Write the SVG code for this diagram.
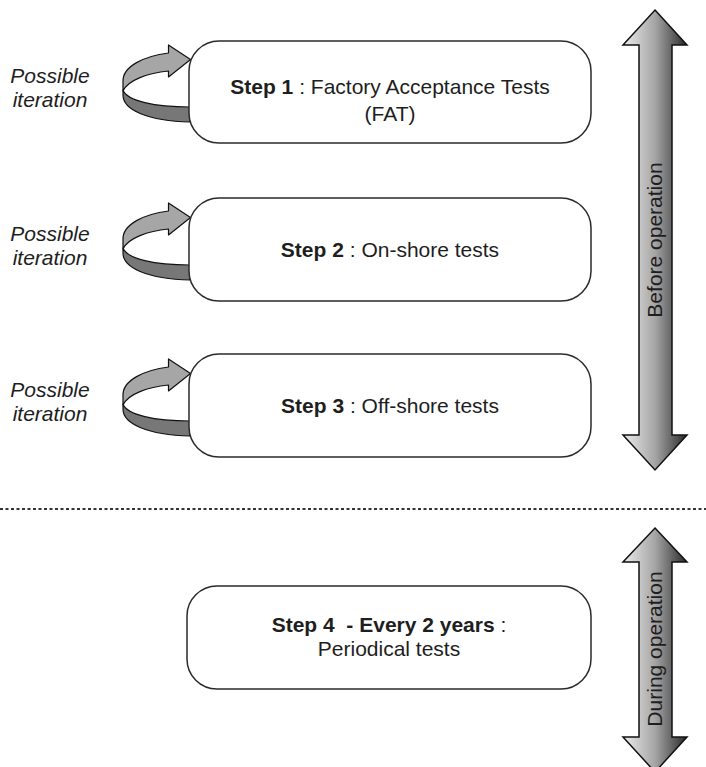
<svg xmlns="http://www.w3.org/2000/svg" width="706" height="767" viewBox="0 0 706 767">
<style>
.box{fill:#fff;stroke:#2a2a2a;stroke-width:1.5}
.t{font-family:"Liberation Sans",Arial,sans-serif;font-size:21px;fill:#1e1e1e}
.b{font-weight:bold}
.it{font-family:"Liberation Sans",Arial,sans-serif;font-size:21px;font-style:italic;fill:#1e1e1e}
.big{stroke:#111;stroke-width:1.5;fill:url(#g)}
.lt{fill:#a6a6a6;stroke:#111;stroke-width:1.2;stroke-linejoin:round}
.dk{fill:#777;stroke:#111;stroke-width:1.2;stroke-linejoin:round}
</style>
<defs>
<linearGradient id="g" x1="0" y1="0" x2="1" y2="0">
<stop offset="0" stop-color="#ececec"/>
<stop offset="0.5" stop-color="#a5a5a5"/>
<stop offset="1" stop-color="#2a2a2a"/>
</linearGradient>
<g id="loop">
<path class="dk" d="M123,90 C127,101 155,107 190,107 L190,122 C148,121 123,110 123,95 Z"/>
<path class="lt" d="M168.5,53 C145,56 122,66 123,82 L123,91 C128,80 148,73 168.5,71 L168.5,77 L190.5,59.5 L168.5,45 Z"/>
</g>
</defs>
<rect width="706" height="767" fill="#fff"/>

<g id="connectors">
<use href="#loop"/>
<use href="#loop" transform="translate(0,158)"/>
<use href="#loop" transform="translate(0,314)"/>
<line x1="0" y1="509" x2="706" y2="509" stroke="#333" stroke-width="2" stroke-dasharray="3 2.5"/>
</g>

<g id="arrow-before">
<polygon class="big" points="655,10 687,45 672,45 672,435 687,435 655,470 623,435 639,435 639,45 623,45"/>
<text class="t" transform="translate(662,240) rotate(-90)" text-anchor="middle">Before operation</text>
</g>
<g id="arrow-during">
<polygon class="big" points="655,528 687,562 672,562 672,737 687,737 655,772 623,737 639,737 639,562 623,562"/>
<text class="t" transform="translate(662,649) rotate(-90)" text-anchor="middle">During operation</text>
</g>

<g id="iter1"><text class="it" x="50" y="83" text-anchor="middle">Possible</text><text class="it" x="50" y="107" text-anchor="middle">iteration</text></g>
<g id="iter2"><text class="it" x="50" y="241" text-anchor="middle">Possible</text><text class="it" x="50" y="265" text-anchor="middle">iteration</text></g>
<g id="iter3"><text class="it" x="50" y="397" text-anchor="middle">Possible</text><text class="it" x="50" y="421" text-anchor="middle">iteration</text></g>

<g id="step1">
<rect class="box" x="189" y="41" width="402" height="102" rx="30" ry="30"/>
<text class="t" x="390" y="94" text-anchor="middle"><tspan class="b">Step 1</tspan> : Factory Acceptance Tests</text>
<text class="t" x="390" y="121" text-anchor="middle">(FAT)</text>
</g>
<g id="step2">
<rect class="box" x="189" y="198" width="402" height="103" rx="30" ry="30"/>
<text class="t" x="390" y="257" text-anchor="middle"><tspan class="b">Step 2</tspan> : On-shore tests</text>
</g>
<g id="step3">
<rect class="box" x="189" y="354" width="402" height="103" rx="30" ry="30"/>
<text class="t" x="390" y="413" text-anchor="middle"><tspan class="b">Step 3</tspan> : Off-shore tests</text>
</g>
<g id="step4">
<rect class="box" x="187" y="586" width="404" height="103" rx="30" ry="30"/>
<text class="t" x="389" y="632" text-anchor="middle" xml:space="preserve"><tspan class="b">Step 4  - Every 2 years</tspan> :</text>
<text class="t" x="389" y="656" text-anchor="middle">Periodical tests</text>
</g>
</svg>
